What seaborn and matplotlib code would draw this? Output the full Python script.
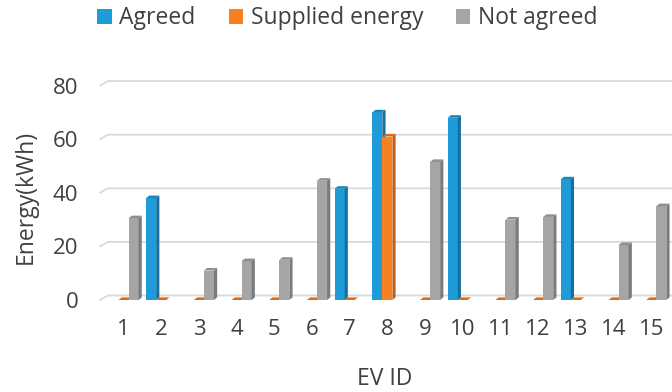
import numpy as np
import pandas as pd
import matplotlib
matplotlib.use("Agg")
import matplotlib.pyplot as plt
import seaborn as sns
from matplotlib.patches import Polygon, Patch

# Energy per EV (kWh)
ev_ids = [str(i) for i in range(1, 16)]
agreed = [0, 38, 0, 0, 0, 0, 41.5, 70, 0, 68, 0, 0, 45, 0, 0]
supplied = [0, 0, 0, 0, 0, 0, 0, 61, 0, 0, 0, 0, 0, 0, 0]
not_agreed = [30.5, 0, 11, 14.5, 15, 44.5, 0, 0, 51.5, 0, 30, 31, 0, 20.5, 35]
series = ["Agreed", "Supplied energy", "Not agreed"]
y_ticks = [0, 20, 40, 60, 80]

front_colors = ["#1F9BD8", "#F98020", "#A5A5A5"]
side_colors = ["#156FA1", "#C0601A", "#7B7B7B"]
top_colors = ["#1A85BB", "#DA6C18", "#8F8F8F"]
text_color = "#404040"
grid_color = "#D9D9D9"

sns.set_theme(style="white")
plt.rcParams["font.family"] = ["Open Sans", "DejaVu Sans"]

df = pd.DataFrame({
    "EV ID": ev_ids * 3,
    "Energy": agreed + supplied + not_agreed,
    "Series": np.repeat(series, len(ev_ids)),
})

W, H = 672, 392
fig = plt.figure(figsize=(W / 100, H / 100), dpi=100)
ax = fig.add_axes([100 / W, 92 / H, 572 / W, 214.4 / H])

sns.barplot(data=df, x="EV ID", y="Energy", hue="Series", order=ev_ids,
            hue_order=series, palette=front_colors, saturation=1, width=0.8,
            linewidth=0, errorbar=None, legend=False, ax=ax)

ax.set_xlim(-0.623, 14.55)
ax.set_ylim(0, 80)
ax.set_yticks(y_ticks)
ax.set_xlabel("")
ax.set_ylabel("")
for s in ax.spines.values():
    s.set_visible(False)
ax.grid(False)
ax.tick_params(axis="both", length=0, labelsize=16, colors=text_color)
ax.tick_params(axis="y", pad=15.5)
ax.tick_params(axis="x", pad=14)

# pixel -> data conversions for the depth faces
fig.canvas.draw()
p0 = ax.transData.transform((0, 0))
p1 = ax.transData.transform((1, 1))
px_x = p1[0] - p0[0]
px_y = p1[1] - p0[1]
dx = 3.2 / px_x
dy = 2.6 / px_y

# back-wall gridlines with a short slanted lead-in on the left
gy = 4.5 / px_y
lead = 8 / (572)
ytrans = ax.get_yaxis_transform()
for v in y_ticks:
    ax.plot([0, lead, 1], [v, v + gy, v + gy], color=grid_color, lw=1.3,
            transform=ytrans, clip_on=False, zorder=0.5)

# side and top faces give the columns depth
for k, container in enumerate(ax.containers):
    base_z = 2 + k * 0.3
    for bar in container:
        bar.set_zorder(base_z)
        x0, w, h = bar.get_x(), bar.get_width(), bar.get_height()
        x1 = x0 + w
        if h > 0:
            ax.add_patch(Polygon([(x1, 0), (x1, h), (x1 + dx, h + dy), (x1 + dx, dy)],
                                 closed=True, facecolor=side_colors[k], edgecolor="none",
                                 zorder=base_z + 0.1, clip_on=False))
        if h > 0 or k == 1:
            ax.add_patch(Polygon([(x0, h), (x1, h), (x1 + dx, h + dy), (x0 + dx, h + dy)],
                                 closed=True, facecolor=top_colors[k], edgecolor="none",
                                 zorder=base_z + 0.1, clip_on=False))

fig.text(26 / W, 1 - 196.5 / H, "Energy(kWh)", rotation=90, ha="center",
         va="center", fontsize=16.5, color=text_color)
fig.text(385 / W, 1 - 385 / H, "EV ID", ha="center", va="baseline",
         fontsize=16.5, color=text_color)

handles = [Patch(facecolor=c, edgecolor="none", label=s)
           for c, s in zip(front_colors, series)]
fig.legend(handles=handles, loc="center", bbox_to_anchor=(347.5 / W, 1 - 18.5 / H),
           ncol=3, frameon=False, fontsize=16.5, handlelength=0.62,
           handleheight=0.62, handletextpad=0.33, columnspacing=1.45,
           borderpad=0, labelcolor=text_color)

fig.savefig("out.png", dpi=100)
